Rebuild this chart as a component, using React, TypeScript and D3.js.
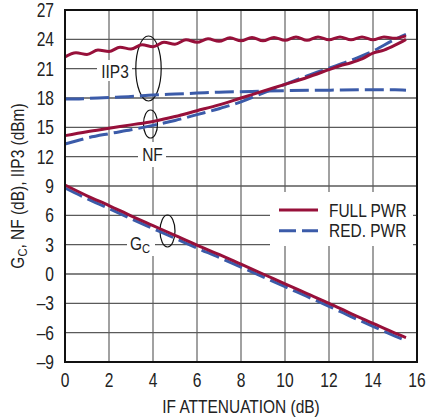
import React from "react";
import * as d3 from "d3";

const xTicks = [0, 2, 4, 6, 8, 10, 12, 14, 16];
const yTicks = [-9, -6, -3, 0, 3, 6, 9, 12, 15, 18, 21, 24, 27];

const iip3FullX = [0, 0.5, 1, 1.5, 2, 2.5, 3, 3.5, 4, 4.5, 5, 5.5, 6, 6.5, 7, 7.5, 8, 8.5, 9, 9.5, 10, 10.5, 11, 11.5, 12, 12.5, 13, 13.5, 14, 14.5, 15, 15.5];
const iip3FullY = [22.2, 22.62, 22.45, 22.9, 22.75, 23.2, 23.0, 23.45, 23.25, 23.7, 23.5, 23.95, 23.7, 24.05, 23.8, 24.15, 23.85, 24.2, 23.85, 24.2, 23.9, 24.25, 23.9, 24.25, 23.95, 24.25, 23.95, 24.25, 23.95, 24.25, 24.1, 24.35];

const iip3RedX = [0, 0.5, 1, 2, 3, 4, 5, 6, 7, 8, 10, 12, 14, 15, 15.5];
const iip3RedY = [17.9, 17.9, 17.95, 18.05, 18.15, 18.3, 18.4, 18.5, 18.6, 18.65, 18.75, 18.8, 18.85, 18.85, 18.8];

const nfFullX = [0, 1, 2, 3, 4, 5, 6, 7, 8, 9, 10, 11, 12, 12.5, 13, 13.5, 14, 14.5, 15, 15.5];
const nfFullY = [14.15, 14.55, 14.9, 15.25, 15.6, 16.1, 16.7, 17.3, 18.0, 18.7, 19.4, 20.1, 20.9, 21.3, 21.6, 22.0, 22.6, 22.9, 23.4, 24.0];

const nfRedX = [0, 0.5, 1, 2, 3, 4, 5, 6, 7, 8, 9, 10, 11, 12, 13, 14, 15, 15.5];
const nfRedY = [13.3, 13.6, 13.9, 14.35, 14.75, 15.2, 15.7, 16.3, 16.9, 17.6, 18.5, 19.4, 20.25, 21.05, 21.85, 22.8, 24.0, 24.5];

const gcFullX = [0, 1, 2, 3, 4, 5, 6, 7, 8, 9, 10, 11, 12, 13, 14, 15, 15.5];
const gcFullY = [9.1, 8.0, 7.0, 5.95, 4.95, 3.95, 2.95, 2.0, 1.0, 0.0, -1.0, -2.0, -3.0, -4.05, -5.05, -6.05, -6.5];

const gcRedX = [0, 1, 2, 3, 4, 5, 6, 7, 8, 9, 10, 11, 12, 13, 14, 15, 15.5];
const gcRedY = [8.8, 7.7, 6.7, 5.65, 4.65, 3.65, 2.65, 1.7, 0.7, -0.3, -1.3, -2.3, -3.3, -4.35, -5.35, -6.35, -6.8];

const legendLabels = ["FULL PWR", "RED. PWR"];

const RED = "#97103a";
const BLUE = "#3b5ba9";
const FONT = "'Liberation Sans', Arial, sans-serif";
const TXT = "#222";
const SX = 0.86; // horizontal condensation for text
const SXD = 0.8; // for tick digits

export default function App() {
  const L = 65, R = 417, T = 10, B = 362;
  const x = d3.scaleLinear().domain([0, 16]).range([L, R]);
  const y = d3.scaleLinear().domain([-9, 27]).range([B, T]);
  const line = (xs: number[], ys: number[]) =>
    d3.line<number>().x((_, i) => x(xs[i])).y((d) => y(d)).curve(d3.curveMonotoneX)(ys) || "";

  const series = [
    { xs: iip3RedX, ys: iip3RedY, c: BLUE, dash: "19,6" },
    { xs: nfRedX, ys: nfRedY, c: BLUE, dash: "19,6" },
    { xs: gcRedX, ys: gcRedY, c: BLUE, dash: "19,6" },
    { xs: iip3FullX, ys: iip3FullY, c: RED, dash: undefined },
    { xs: nfFullX, ys: nfFullY, c: RED, dash: undefined },
    { xs: gcFullX, ys: gcFullY, c: RED, dash: undefined },
  ];

  const T2 = (px: number, py: number, s: number, props: any, children: any) => (
    <g transform={`translate(${px},${py}) scale(${s},1)`}>
      <text x={0} y={0} fill={TXT} {...props}>{children}</text>
    </g>
  );

  return (
    <svg width={427} height={419} style={{ position: "absolute", left: 0, top: 0, background: "#fff" }} fontFamily={FONT}>
      <rect x={0} y={0} width={427} height={419} fill="#fff" />
      {xTicks.slice(1, -1).map((t) => (
        <line key={"vx" + t} x1={x(t)} x2={x(t)} y1={T} y2={B} stroke="#8a8a8a" strokeWidth={1.6} />
      ))}
      {yTicks.slice(1, -1).map((t) => (
        <line key={"hy" + t} x1={L} x2={R} y1={y(t)} y2={y(t)} stroke="#5a5a5a" strokeWidth={1.4} />
      ))}
      {/* label backgrounds */}
      <rect x={97} y={60} width={35} height={21} fill="#fff" />
      <rect x={138} y={142} width={28} height={25} fill="#fff" />
      <rect x={127} y={216} width={28} height={40} fill="#fff" />
      <rect x={270} y={192} width={143} height={54} fill="#fff" />
      {/* ellipses */}
      <ellipse cx={148.5} cy={68.5} rx={12.7} ry={32.5} fill="none" stroke="#111" strokeWidth={1.2} />
      <ellipse cx={150.5} cy={124} rx={7} ry={14} fill="none" stroke="#111" strokeWidth={1.2} />
      <ellipse cx={167.5} cy={231} rx={7.5} ry={16} fill="none" stroke="#111" strokeWidth={1.2} />
      {/* curves */}
      {series.map((s, i) => (
        <path key={i} d={line(s.xs, s.ys)} fill="none" stroke={s.c} strokeWidth={3} strokeDasharray={s.dash} />
      ))}
      {/* frame */}
      <rect x={L} y={T} width={R - L} height={B - T} fill="none" stroke="#111" strokeWidth={2} />
      {/* curve labels */}
      {T2(115, 77.5, SX, { fontSize: 18, textAnchor: "middle" }, "IIP3")}
      {T2(152.5, 161, SX, { fontSize: 18, textAnchor: "middle" }, "NF")}
      {T2(130, 250, SX, { fontSize: 18 }, <>G<tspan fontSize={13} dy={3}>C</tspan></>)}
      {/* legend */}
      {legendLabels.map((lab, i) => (
        <g key={lab}>
          <line x1={279} x2={318} y1={210 + i * 20.7} y2={210 + i * 20.7} stroke={i === 0 ? RED : BLUE} strokeWidth={3} strokeDasharray={i === 0 ? undefined : "17,6"} />
          {T2(329, 216.5 + i * 20.7, SX, { fontSize: 18 }, lab)}
        </g>
      ))}
      {/* y ticks */}
      {yTicks.map((t) => (
        <g key={"yt" + t}>
          {T2(54, y(t), SXD, { fontSize: 19.5, textAnchor: "end", dy: "0.36em" }, t < 0 ? "\u2013" + Math.abs(t) : String(t))}
        </g>
      ))}
      {xTicks.map((t) => (
        <g key={"xt" + t}>{T2(x(t), 387, SXD, { fontSize: 19.5, textAnchor: "middle" }, String(t))}</g>
      ))}
      {T2((L + R) / 2, 413, SX, { fontSize: 18, textAnchor: "middle" }, "IF ATTENUATION (dB)")}
      <g transform={`translate(24, ${(T + B) / 2}) rotate(-90) scale(${SX},1)`}>
        <text x={0} y={0} fontSize={18} textAnchor="middle" fill={TXT}>
          G<tspan fontSize={13} dy={3}>C</tspan><tspan dy={-3}>, NF (dB), IIP3 (dBm)</tspan>
        </text>
      </g>
    </svg>
  );
}
